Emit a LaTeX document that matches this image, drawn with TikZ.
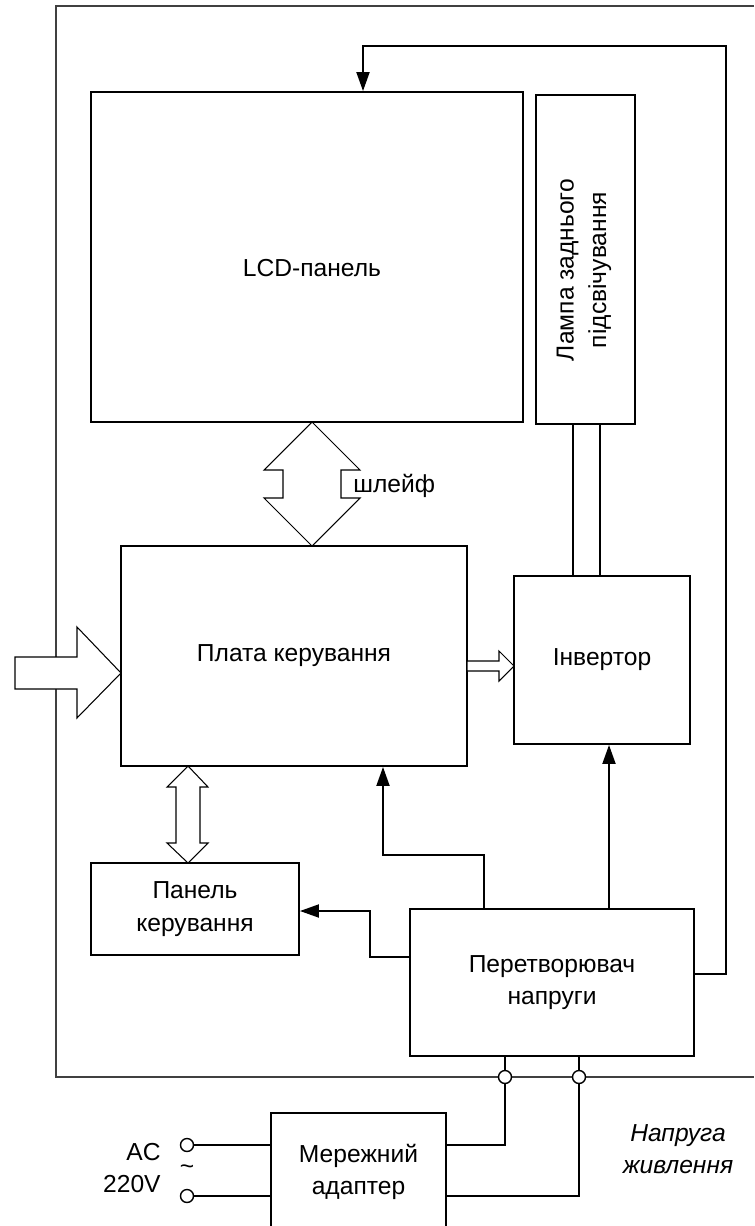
\documentclass[tikz,border=0pt]{standalone}
\usepackage{fontspec}
\setmainfont{Liberation Sans}
\usetikzlibrary{arrows.meta}

\begin{document}
\begin{tikzpicture}[x=0.02cm, y=-0.02cm,
    block/.style={rectangle, draw, line width=1.1pt, fill=white, align=center, inner sep=0pt, font=\fontsize{14}{18.5}\selectfont},
    wire/.style={line width=1.1pt},
    lead/.style={line width=0.6pt},
    arrow/.style={-{Triangle[length=3.8mm, width=2.6mm]}, line width=1.1pt},
    hollow/.style={draw, line width=0.6pt, fill=white, line join=miter},
    frame/.style={draw=black!75, line width=0.6pt},
    jack/.style={circle, draw, line width=0.8pt, fill=white, minimum size=0.26cm, inner sep=0pt},
    caption/.style={align=center, inner sep=0pt, font=\fontsize{14}{18.5}\selectfont},
  ]
  \clip (0,0) rectangle (754,1226);

  % enclosure
  \draw[frame] (754,6) -- (56,6) -- (56,1077) -- (754,1077);

  % blocks
  \node[block, minimum width=8.64cm, minimum height=6.6cm] (lcd) at (307,257) {};
  \node[caption] (lcdtext) at (312,268) {LCD-панель};
  \node[block, minimum width=1.98cm, minimum height=6.58cm] (lamp) at (585.5,259.5) {};
  \node[caption, rotate=90] (lamptext) at (584,270) {Лампа заднього\\підсвічування};
  \node[block, minimum width=6.92cm, minimum height=4.4cm] (plata) at (294,656) {Плата керування};
  \node[block, minimum width=3.52cm, minimum height=3.36cm] (inv) at (602,660) {Інвертор};
  \node[block, minimum width=4.16cm, minimum height=1.84cm] (panel) at (195,909) {Панель\\керування};
  \node[block, minimum width=5.68cm, minimum height=2.94cm] (conv) at (552,982.5) {Перетворювач\\напруги};
  \node[block, minimum width=3.5cm, minimum height=2.36cm] (adapter) at (358.5,1172) {Мережний\\адаптер};

  % ribbon cable and buses
  \draw[hollow] (312,422) -- (360,470) -- (341,470) -- (341,498) -- (360,498) -- (312,546)
    -- (264,498) -- (283,498) -- (283,470) -- (264,470) -- cycle;
  \node[caption, anchor=west] (shleif) at (353,486) {шлейф};
  \draw[hollow] (188,766) -- (208,787) -- (200,787) -- (200,843) -- (208,843) -- (188,863)
    -- (167,843) -- (176,843) -- (176,787) -- (167,787) -- cycle;
  \draw[hollow] (15,657) -- (77,657) -- (77,627) -- (121,673) -- (77,718) -- (77,689) -- (15,689) -- cycle;
  \draw[hollow] (467,661) -- (499,661) -- (499,651) -- (514,666) -- (499,681) -- (499,671) -- (467,671) -- cycle;

  % lamp supply
  \draw[lead] (lamp.south -| 573,0) -- (inv.north -| 573,0);
  \draw[wire] (lamp.south -| 600,0) -- (inv.north -| 600,0);

  % power distribution
  \draw[arrow] (conv.east |- 0,974) -- (726,974) -- (726,46) -- (363,46) -- (lcd.north -| 363,0);
  \draw[arrow] (conv.north -| 609,0) -- (inv.south -| 609,0);
  \draw[arrow] (conv.north -| 484,0) -- (484,855) -- (383,855) -- (plata.south -| 383,0);
  \draw[arrow] (conv.west |- 0,957) -- (370,957) -- (370,911) -- (panel.east |- 0,911);

  % supply input
  \node[jack] (ja) at (505,1077) {};
  \node[jack] (jb) at (579,1077) {};
  \draw[lead] (conv.south -| ja) -- (ja.north);
  \draw[lead] (conv.south -| jb) -- (jb.north);
  \draw[wire] (ja.south) |- (adapter.east |- 0,1145);
  \draw[wire] (jb.south) |- (adapter.east |- 0,1196);

  \node[jack] (jc) at (187,1145) {};
  \node[jack] (jd) at (187,1196) {};
  \draw[lead] (jc.east) -- (adapter.west |- jc);
  \draw[lead] (jd.east) -- (adapter.west |- jd);
  \node[caption, anchor=east, align=right] (ac) at (161,1168) {AC\\220V};
  \node[caption] (tilde) at (187,1170) {\textasciitilde};
  \node[caption, font=\fontsize{14}{18.5}\selectfont\itshape] (supply) at (678,1149) {Напруга\\живлення};
\end{tikzpicture}
\end{document}
